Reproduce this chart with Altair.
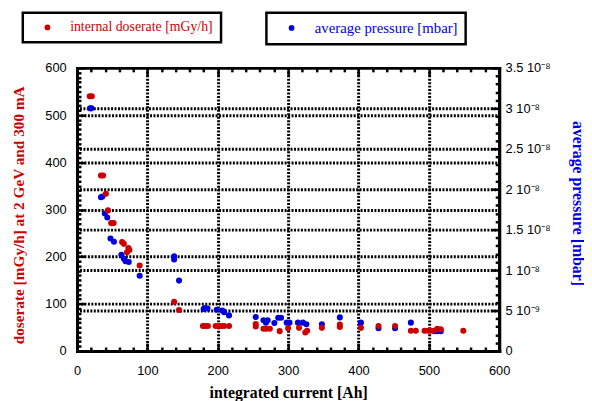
import altair as alt
import pandas as pd

# ---------------- data ----------------
dose_label = "internal doserate [mGy/h]"
pres_label = "average pressure [mbar]"

dose_current = [18, 21, 34, 37, 41, 44, 48.5, 52, 64, 66.5,
                73, 74.5, 71, 89, 138, 145,
                179, 182, 186, 197, 201, 205, 209, 216,
                254, 254, 265, 269, 274, 288, 300,
                315.5, 324.5, 327, 348, 373.5, 373.5, 403.5, 428.5, 452, 474.5, 481.5,
                494, 499, 503, 507, 512, 517, 549]
dose_rate = [540, 540, 372, 372, 333, 298, 271, 271, 231, 227,
             218, 214, 209, 181, 104, 87,
             53, 53, 53, 53, 53, 53, 53, 53,
             57, 52, 47, 47, 47, 42, 48,
             49, 39, 43, 49, 56, 51, 49, 53, 53, 43, 43,
             43, 43, 43, 43, 47, 46, 43]

pres_current = [18.5, 20.5, 34, 36, 39.5, 43, 47.5, 52.5, 63, 66.5,
                69, 73.5, 89, 138, 138, 145,
                180, 182, 185.5, 198.5, 206.5, 209, 216,
                254, 265, 271, 268.5, 280.5, 286, 290, 298, 302, 314,
                321, 326, 348, 373.5, 403.5, 428.5, 452, 474.5,
                508, 512, 517]
# pressure in units of 1e-8 mbar
pres_e8 = [3.00, 3.00, 1.90, 1.91, 1.70, 1.65, 1.39, 1.35, 1.19, 1.14,
           1.11, 1.10, 0.93, 1.17, 1.13, 0.87,
           0.52, 0.53, 0.525, 0.51, 0.50, 0.48, 0.44,
           0.42, 0.38, 0.38, 0.35, 0.345, 0.41, 0.41, 0.35, 0.35, 0.35,
           0.35, 0.33, 0.33, 0.415, 0.35, 0.28, 0.28, 0.35,
           0.245, 0.245, 0.245]

x_ticks_major = [0, 100, 200, 300, 400, 500, 600]
x_ticks_minor = list(range(0, 601, 20))
dose_ticks_major = [0, 100, 200, 300, 400, 500, 600]
dose_ticks_minor = list(range(0, 601, 10))
pres_ticks_major = [0, 0.5, 1, 1.5, 2, 2.5, 3, 3.5]
pres_ticks_minor = [round(i * 0.1, 1) for i in range(36)]

# ---------------- styling ----------------
W, H = 428, 287
RED = "#cc0000"
BLUE = "#0000dd"
SERIF = "Liberation Serif"
SANS = "Liberation Sans"
GRID_DASH = [2, 1.5]

dose = pd.DataFrame({"current": dose_current, "dose": dose_rate,
                     "series": [dose_label] * len(dose_current)})
pres = pd.DataFrame({"current": pres_current, "pressure": pres_e8,
                     "series": [pres_label] * len(pres_current)})


def xscale():
    return alt.Scale(domain=[0, 600], nice=False, zero=False)


def dscale():
    return alt.Scale(domain=[0, 600], nice=False)


def pscale():
    return alt.Scale(domain=[0, 3.5], nice=False)


inner_grid_x = {"condition": {"test": "datum.value > 1 && datum.value < 599", "value": 1}, "value": 0}
inner_grid_p = {"condition": {"test": "datum.value > 0.01 && datum.value < 3.49", "value": 1}, "value": 0}
tick100 = {"condition": {"test": "datum.value % 100 === 0", "value": 8}, "value": 4}
tick_p = {"condition": {"test": "abs(datum.value * 2 - round(datum.value * 2)) < 0.001", "value": 8}, "value": 4}

common_dom = dict(domain=True, domainColor="black", domainWidth=3, domainCap="square")
tick_style = dict(ticks=True, tickColor="black", tickWidth=2.5, labels=False, grid=False, title=None)

legend_common = dict(orient="none", title=None, labelFont=SERIF,
                     labelLimit=400, symbolType="circle", symbolSize=34, symbolOffset=10,
                     labelOffset=16, padding=8, strokeColor="black", fillColor="white",
                     symbolStrokeWidth=0, legendY=-56)

blue_layer = alt.Chart(pres).mark_circle(size=38, opacity=1).encode(
    x=alt.X("current:Q", scale=xscale(), axis=None),
    y=alt.Y("pressure:Q", scale=pscale(), axis=alt.Axis(
        orient="right", values=pres_ticks_major, ticks=False,
        labelExpr="datum.value == 0 ? '0' : (datum.value < 0.99 ? format(datum.value * 10, '~g') + ' 10⁻⁹' : format(datum.value, '~g') + ' 10⁻⁸')",
        labelFont=SANS, labelFontSize=13, labelColor="black", labelPadding=6,
        grid=True, gridColor="black", gridWidth=3, gridDash=GRID_DASH, gridOpacity=inner_grid_p,
        title=pres_label, titleColor=BLUE, titleFont=SERIF, titleFontSize=16, titleFontWeight="bold",
        titleAngle=90, titleBaseline="alphabetic", titleAlign="center", titleX=74, titleY=137,
        **common_dom)),
    color=alt.Color("series:N", scale=alt.Scale(domain=[pres_label], range=[BLUE]),
                    legend=alt.Legend(legendX=192, labelColor=BLUE, labelFontSize=15, **legend_common)),
)

red_layer = alt.Chart(dose).mark_circle(size=38, opacity=1).encode(
    x=alt.X("current:Q", scale=xscale(), axis=alt.Axis(
        orient="bottom", values=x_ticks_major, ticks=False, labelFlush=False, labelOverlap=False,
        labelFont=SANS, labelFontSize=13, labelColor="black", labelPadding=14,
        grid=True, gridColor="black", gridWidth=3, gridDash=GRID_DASH, gridOpacity=inner_grid_x,
        title="integrated current [Ah]", titleColor="black", titleFont=SERIF, titleFontSize=16,
        titleFontWeight="bold", titleBaseline="alphabetic", titleY=47, titleX=W / 2,
        **common_dom)),
    y=alt.Y("dose:Q", scale=dscale(), axis=alt.Axis(
        orient="left", values=dose_ticks_major, ticks=False,
        labelFont=SANS, labelFontSize=13, labelColor="black", labelPadding=11,
        grid=True, gridColor="black", gridWidth=3, gridDash=GRID_DASH, gridOpacity=inner_grid_x,
        title="doserate [mGy/h] at 2 GeV and 300 mA", titleColor=RED, titleFont=SERIF,
        titleFontSize=15.5, titleFontWeight="bold", titleAngle=-90, titleBaseline="alphabetic",
        titleAlign="center", titleX=-54, titleY=149,
        **common_dom)),
    color=alt.Color("series:N", scale=alt.Scale(domain=[dose_label], range=[RED]),
                    legend=alt.Legend(legendX=-55, labelColor=RED, labelFontSize=14, **legend_common)),
)

# inward ticks: bottom edge (pointing up) and left edge (pointing right)
ticks_a = alt.Chart(dose).mark_circle(opacity=0).encode(
    x=alt.X("current:Q", scale=xscale(), axis=alt.Axis(
        orient="top", offset=-H, values=x_ticks_minor, tickSize=tick100, **tick_style, **common_dom)),
    y=alt.Y("dose:Q", scale=dscale(), axis=alt.Axis(
        orient="right", offset=-W, values=dose_ticks_minor, tickSize=tick100, **tick_style, **common_dom)),
)

# inward ticks: top edge (pointing down) and right edge (pointing left)
ticks_b = alt.Chart(pres).mark_circle(opacity=0).encode(
    x=alt.X("current:Q", scale=xscale(), axis=alt.Axis(
        orient="bottom", offset=-H, values=x_ticks_minor, tickSize=tick100, **tick_style, **common_dom)),
    y=alt.Y("pressure:Q", scale=pscale(), axis=alt.Axis(
        orient="left", offset=-W, values=pres_ticks_minor, tickSize=tick_p, **tick_style, **common_dom)),
)

chart = alt.layer(blue_layer, red_layer, ticks_a, ticks_b).resolve_scale(
    x="independent", y="independent", color="independent"
).resolve_axis(
    x="independent", y="independent"
).properties(
    width=W, height=H,
    autosize=alt.AutoSizeParams(type="none"),
    padding={"left": 70, "top": 58, "right": 86, "bottom": 48},
    background="white",
).configure_view(strokeWidth=0).configure_legend(strokeWidth=2.5)

chart.save("out.html", embed_options={"renderer": "svg", "actions": False})
